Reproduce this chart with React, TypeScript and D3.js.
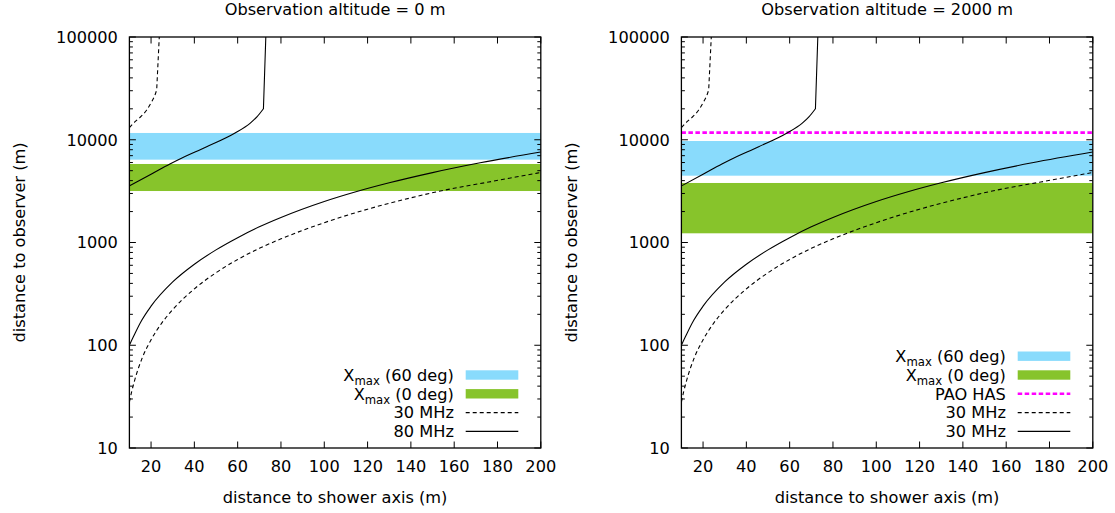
import React from "react";
import * as d3 from "d3";

// ---------- data ----------
const xTicks = [20, 40, 60, 80, 100, 120, 140, 160, 180, 200];
const yTicks = [10, 100, 1000, 10000, 100000];

// [distance to shower axis (m), distance to observer (m)]
const solidLower: [number, number][] = [
  [10, 100], [11, 111], [12, 123], [15, 165], [20, 240], [30, 413], [40, 614],
  [50, 848], [60, 1115], [70, 1420], [80, 1751], [100, 2505], [115, 3133],
  [130, 3809], [150, 4788], [172, 5964], [200, 7591],
];
const solidUpper: [number, number][] = [
  [10, 3550], [20, 4610], [28.7, 5810], [32.6, 6400], [45.7, 8560],
  [58.8, 11640], [65.7, 14450], [69, 16800], [71.9, 20050],
];
const solidUpperTop: [number, number] = [73, 100000];
const dashedLower: [number, number][] = [
  [10, 28], [11, 35], [12, 42.3], [14, 58.5], [16, 76], [20, 113], [25, 165],
  [30, 222], [40, 354], [50, 508], [60, 683], [70, 877], [80, 1085],
  [100, 1560], [120, 2110], [140, 2720], [153, 3150], [176, 3880], [200, 4800],
];
const dashedUpper: [number, number][] = [
  [10, 13100], [12.6, 15000], [14.9, 16500], [18, 19480], [20.3, 23450],
  [21.8, 27240], [22.6, 30480],
];
const dashedUpperTop: [number, number] = [23.8, 100000];

// bands [low, high]
const band60Left: [number, number] = [6400, 11640];
const band0Left: [number, number] = [3170, 5810];
const band60Right: [number, number] = [4470, 9720];
const band0Right: [number, number] = [1229, 3795];
const paoHas = 11720;

const titles = ["Observation altitude = 0 m", "Observation altitude = 2000 m"];
const legendLeft = ["X|max| (60 deg)", "X|max| (0 deg)", "30 MHz", "80 MHz"];
const legendRight = ["X|max| (60 deg)", "X|max| (0 deg)", "PAO HAS", "30 MHz", "30 MHz"];

// ---------- style ----------
const FONT = "DejaVu Sans, sans-serif";
const FS = 16.2;
const BLUE = "#89dbfc";
const GREEN = "#87c42b";
const MAGENTA = "#ff00ff";

const TOP = 37;
const BOTTOM = 448;
const W = 411.4;

function LegendText({ x, y, label }: { x: number; y: number; label: string }) {
  const parts = label.split("|");
  if (parts.length === 3) {
    return (
      <text x={x} y={y} textAnchor="end" fontFamily={FONT} fontSize={FS}>
        <tspan>{parts[0]}</tspan>
        <tspan fontSize={FS * 0.72} dy={4}>{parts[1]}</tspan>
        <tspan dy={-4}>{parts[2]}</tspan>
      </text>
    );
  }
  return (
    <text x={x} y={y} textAnchor="end" fontFamily={FONT} fontSize={FS}>
      {label}
    </text>
  );
}

function Panel({ left, right }: { left: number; right: boolean }) {
  const x = d3.scaleLinear().domain([10, 200]).range([left, left + W]);
  const y = d3.scaleLog().domain([10, 100000]).range([BOTTOM, TOP]);
  const line = d3
    .line<[number, number]>()
    .x((d) => x(d[0]))
    .y((d) => y(d[1]))
    .curve(d3.curveMonotoneX);
  const withTop = (pts: [number, number][], top: [number, number]) =>
    (line(pts) || "") + `L${x(top[0])},${y(top[1])}`;
  const b60 = right ? band60Right : band60Left;
  const b0 = right ? band0Right : band0Left;
  const plotR = left + W;
  const minor: number[] = [];
  for (let e = 1; e < 5; e++) for (let m = 2; m <= 9; m++) minor.push(m * Math.pow(10, e));
  const clipId = right ? "clipR" : "clipL";
  const legend = right ? legendRight : legendLeft;
  const rowH = 18.8;
  const lastRow = 431.4;
  const swX1 = plotR - 75.1;
  const swX2 = plotR - 22.5;
  const cx = left + W / 2;
  return (
    <g>
      <defs>
        <clipPath id={clipId}>
          <rect x={left} y={TOP} width={W} height={BOTTOM - TOP} />
        </clipPath>
      </defs>
      <text x={cx} y={15} textAnchor="middle" fontFamily={FONT} fontSize={FS}>
        {right ? titles[1] : titles[0]}
      </text>
      <g clipPath={`url(#${clipId})`}>
        <rect x={left} width={W} y={y(b60[1])} height={y(b60[0]) - y(b60[1])} fill={BLUE} />
        <rect x={left} width={W} y={y(b0[1])} height={y(b0[0]) - y(b0[1])} fill={GREEN} />
        {right && (
          <line x1={left} x2={plotR} y1={y(paoHas)} y2={y(paoHas)} stroke={MAGENTA}
            strokeWidth={2.6} strokeDasharray="4.5,2.5" />
        )}
        <path d={line(dashedLower) || ""} fill="none" stroke="#000" strokeWidth={1.1} strokeDasharray="4,3" />
        <path d={withTop(dashedUpper, dashedUpperTop)} fill="none" stroke="#000" strokeWidth={1.1} strokeDasharray="4,3" />
        <path d={line(solidLower) || ""} fill="none" stroke="#000" strokeWidth={1.1} />
        <path d={withTop(solidUpper, solidUpperTop)} fill="none" stroke="#000" strokeWidth={1.1} />
      </g>
      {/* ticks */}
      {xTicks.map((t) => (
        <g key={"x" + t}>
          <line x1={x(t)} x2={x(t)} y1={BOTTOM} y2={BOTTOM - 6.5} stroke="#000" strokeWidth={1} />
          <line x1={x(t)} x2={x(t)} y1={TOP} y2={TOP + 6.5} stroke="#000" strokeWidth={1} />
          <text x={x(t)} y={471.8} textAnchor="middle" fontFamily={FONT} fontSize={FS}>{t}</text>
        </g>
      ))}
      {yTicks.map((t) => (
        <g key={"y" + t}>
          <line x1={left} x2={left + 6.5} y1={y(t)} y2={y(t)} stroke="#000" strokeWidth={1} />
          <line x1={plotR} x2={plotR - 6.5} y1={y(t)} y2={y(t)} stroke="#000" strokeWidth={1} />
          <text x={left - 11.5} y={y(t) + 5.8} textAnchor="end" fontFamily={FONT} fontSize={FS}>{t}</text>
        </g>
      ))}
      {minor.map((t) => (
        <g key={"m" + t}>
          <line x1={left} x2={left + 3.5} y1={y(t)} y2={y(t)} stroke="#000" strokeWidth={1} />
          <line x1={plotR} x2={plotR - 3.5} y1={y(t)} y2={y(t)} stroke="#000" strokeWidth={1} />
        </g>
      ))}
      <rect x={left} y={TOP} width={W} height={BOTTOM - TOP} fill="none" stroke="#000" strokeWidth={1.3} />
      {/* axis titles */}
      <text x={cx} y={502.5} textAnchor="middle" fontFamily={FONT} fontSize={FS}>
        distance to shower axis (m)
      </text>
      <text transform={`translate(${left - 104},242.5) rotate(-90)`} textAnchor="middle"
        fontFamily={FONT} fontSize={FS}>
        distance to observer (m)
      </text>
      {/* legend */}
      {legend.map((lab, i) => {
        const ry = lastRow - (legend.length - 1 - i) * rowH;
        let sw: React.ReactNode;
        if (i === 0) sw = <rect x={swX1} y={ry - 4.7} width={swX2 - swX1} height={9.4} fill={BLUE} />;
        else if (i === 1) sw = <rect x={swX1} y={ry - 4.7} width={swX2 - swX1} height={9.4} fill={GREEN} />;
        else if (right && i === 2)
          sw = <line x1={swX1} x2={swX2} y1={ry} y2={ry} stroke={MAGENTA} strokeWidth={2.6} strokeDasharray="4.5,2.5" />;
        else if (i === legend.length - 2)
          sw = <line x1={swX1} x2={swX2} y1={ry} y2={ry} stroke="#000" strokeWidth={1.1} strokeDasharray="4,3" />;
        else sw = <line x1={swX1} x2={swX2} y1={ry} y2={ry} stroke="#000" strokeWidth={1.1} />;
        return (
          <g key={"l" + i}>
            {sw}
            <LegendText x={swX1 - 11.8} y={ry + 5.8} label={lab} />
          </g>
        );
      })}
    </g>
  );
}

export default function App() {
  return (
    <svg width={1115} height={513} style={{ position: "absolute", left: 0, top: 0, background: "#fff" }}>
      <rect width={1115} height={513} fill="#fff" />
      <Panel left={129.4} right={false} />
      <Panel left={681.4} right={true} />
    </svg>
  );
}
